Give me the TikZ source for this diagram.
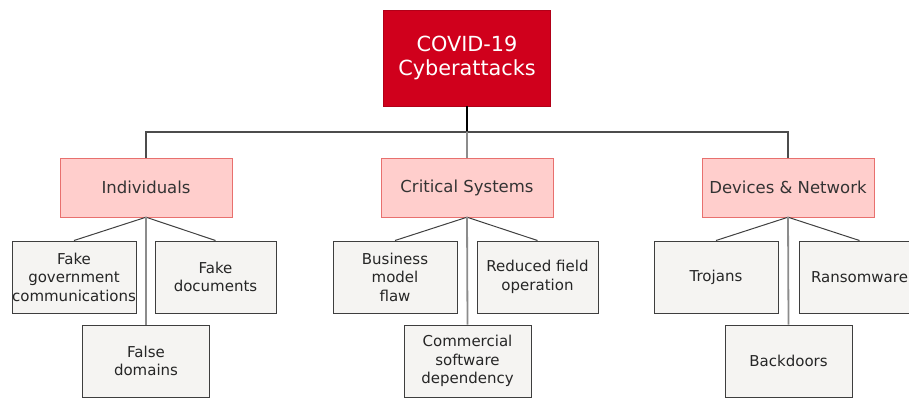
\documentclass[tikz,border=0pt]{standalone}
\usepackage{fontspec}
\setmainfont{DejaVu Sans}
\usepackage{tikz}
\definecolor{covidred}{RGB}{208, 0, 28}
\definecolor{catfill}{RGB}{255, 206, 204}
\definecolor{catline}{RGB}{232, 112, 110}
\definecolor{leaffill}{RGB}{245, 244, 242}
\definecolor{leafline}{RGB}{62, 62, 62}
\definecolor{stem}{RGB}{140, 140, 140}
\tikzset{
  rootbox/.style={fill=covidred, draw=covidred!85!black, text=white, align=center,
    minimum width=167pt, minimum height=96pt, inner sep=0pt,
    font=\fontsize{20.8}{24}\selectfont},
  catbox/.style={fill=catfill, draw=catline, text=black!80, align=center,
    minimum width=172pt, minimum height=59pt, inner sep=0pt,
    font=\fontsize{16.5}{19}\selectfont},
  leafbox/.style={fill=leaffill, draw=leafline, text=black!85, align=center,
    minimum height=72pt, inner sep=0pt, line width=1pt,
    font=\fontsize{15}{18.5}\selectfont},
}
\begin{document}
\begin{tikzpicture}[x=1pt, y=-1pt]
  \useasboundingbox (0, 0) rectangle (909, 397);
  \clip (0, 0) rectangle (909, 397);
  \node[rootbox] (root) at (467, 58) {COVID-19\\Cyberattacks};
  \coordinate (hub) at (467, 132);
  \node[catbox] (ind) at (146, 187.5) {Individuals};
  \node[catbox] (crit) at (467, 187.5) {Critical Systems};
  \node[catbox] (dev) at (788, 187.5) {Devices \& Network};
  % leaves under each branch
  \node[leafbox, minimum width=124pt] (govcom) at (74, 277) {Fake\\government\\communications};
  \node[leafbox, minimum width=121pt] (fakedoc) at (215.5, 277) {Fake\\documents};
  \node[leafbox, minimum width=127pt] (falsedom) at (146, 361) {False\\domains};
  \node[leafbox, minimum width=124pt] (bizflaw) at (395, 277) {Business\\model\\flaw};
  \node[leafbox, minimum width=121pt] (fieldop) at (537.5, 277) {Reduced field\\operation};
  \node[leafbox, minimum width=127pt] (softdep) at (467.5, 361) {Commercial\\software\\dependency};
  \node[leafbox, minimum width=124pt] (trojan) at (716, 277) {Trojans};
  \node[leafbox, minimum width=121pt] (ransom) at (859.5, 277) {Ransomware};
  \node[leafbox, minimum width=127pt] (backdoor) at (788.5, 361) {Backdoors};
  % tree lines
  \draw[black, line width=1.5pt] (root) -- (hub);
  \draw[black!70, line width=1.2pt] (hub) -| (ind);
  \draw[black!70, line width=1.2pt] (hub) -| (dev);
  \draw[stem, line width=1.8pt] (hub) -- (crit);
  \foreach \cat/\lft/\rgt/\low in {ind/govcom/fakedoc/falsedom, crit/bizflaw/fieldop/softdep, dev/trojan/ransom/backdoor} {
    \draw[black!75, line width=1pt] (\cat.south) -- (\lft.north);
    \draw[black!75, line width=1pt] (\cat.south) -- (\rgt.north);
    \draw[stem, line width=1.8pt] (\cat.south) -- (\low.north);
  }
\end{tikzpicture}
\end{document}
